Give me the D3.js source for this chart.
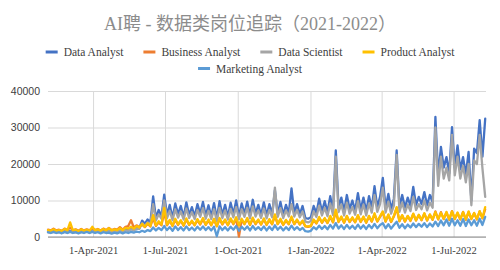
<!DOCTYPE html>
<html>
<head>
<meta charset="utf-8">
<script src="https://cdn.jsdelivr.net/npm/d3@7"></script>
<style>
  body { margin: 0; background: #fff; }
  #chart { width: 500px; height: 270px; }
</style>
</head>
<body>
<div id="chart"></div>
<script>
/* * * * * * * * * * * * * *
 *         LineVis          *
 * * * * * * * * * * * * * */

// one point every 3.5 days, starting 3-Feb-2021
const startDate = new Date(2021, 1, 3);
const stepHours = 84;
const endDate = new Date(2021, 1, 3 + 554);

const seriesNames = ["Data Analyst", "Business Analyst", "Data Scientist", "Product Analyst", "Marketing Analyst"];

const dataAnalyst = [
  1500,1300,1600,1300,1500,1200,1600,1300,1700,1300,1500,1200,1600,1400,1700,1300,1800,1400,1600,1300,1700,1400,1800,1400,1700,1500,1900,1500,2000,
  1800,2300,1900,2600,2400,4500,3600,4800,4000,
  11100,
  5200,7400,5600,
  11600,
  6000,8800,5200,9200,6200,8500,5400,9500,6000,8200,5600,9000,6400,9600,5800,8700,5600,9300,
  5000,9800,6000,8800,5500,9400,6200,10000,
  5600,9200,6300,9700,5800,10200,6400,8800,6000,9500,5900,9000,6200,
  12800,
  6300,9600,6000,8800,6400,
  13300,
  6500,9000,6200,8500,
  5200,5000,5400,
  8500,6500,10500,7000,9800,6800,11200,7200,
  23700,
  8000,10800,7000,11500,7600,10000,7200,12000,7400,10800,7000,11200,8000,
  13900,
  8200,11000,
  16200,
  8000,11800,7600,10500,
  23700,
  8200,11500,8000,10800,8500,
  13700,
  8800,11000,9000,12300,8700,11500,9500,
  32900,
  16500,24700,19000,21900,17500,30100,19000,25100,18500,21900,17000,23300,10000,24200,23000,32000,22000,32400
];

const businessAnalyst = [
  2000,1800,2300,1800,2000,1700,2300,1900,2600,1900,2100,1700,2200,1800,2100,1800,2400,1900,2200,1800,2300,1900,2500,1900,2200,2000,2700,2000,2800,
  3000,4600,2600,3200,2700,3400,2700,3600,2900,
  5200,
  3000,4000,3200,
  6800,
  3200,4400,3000,4700,3300,4400,3100,4800,3300,4300,3200,4600,3400,4900,3300,4500,3200,4700,
  2900,4900,3400,4600,3200,4800,3500,5100,
  100,4700,3500,4900,3300,5000,3500,4600,3400,4800,3300,4600,3500,
  5800,
  3500,4700,3300,4500,3500,
  5300,
  3500,4600,3400,4300,
  2900,2800,3000,
  4600,3700,5200,3900,5000,3800,5500,4000,
  7000,
  4100,5400,3900,5600,4100,5200,4000,5800,4100,5400,3900,5600,4200,
  6200,
  4200,5500,
  6800,
  4200,6000,4100,5600,
  7900,
  4300,5900,4200,5700,4400,
  6300,
  4500,6000,4600,6400,4500,6100,4700,
  7000,
  4800,6800,4900,6700,4700,7100,4900,6500,4800,6900,4700,6800,4900,6500,4800,7000,5100,7600
];

const dataScientist = [
  1300,1200,1400,1200,1300,1100,1400,1200,1500,1200,1300,1100,1400,1300,1500,1200,1600,1300,1500,1200,1500,1300,1600,1300,1600,1400,1800,1400,1800,
  1700,2100,1800,2300,2200,3800,3000,4000,3500,
  9000,
  4500,6200,5000,
  10000,
  5200,7200,4600,7600,5300,7000,4800,7800,5200,6800,4900,7400,5500,7900,5000,7200,4900,7600,
  4400,8000,5200,7300,4800,7700,5400,8200,
  4900,7600,5500,8000,5100,8400,5600,7300,5200,7800,5100,7400,5400,
  13500,
  5500,7900,5200,7300,5600,
  9000,
  5600,7400,5400,7000,
  4200,4000,4400,
  7000,5500,8600,5900,8000,5700,9200,6000,
  22000,
  6800,8900,5900,9400,6400,8200,6100,9800,6200,8900,5900,9200,6700,
  11500,
  6900,9000,
  13500,
  6700,9700,6400,8600,
  22500,
  6900,9400,6700,8900,7100,
  11000,
  7400,9000,7600,10000,7300,9400,8000,
  30000,
  14000,22000,16000,19000,15500,28000,16900,22000,16000,19500,15000,20000,8700,21000,20000,28000,18800,11000
];

const productAnalyst = [
  1900,1700,2100,1700,1900,1600,2200,1800,4000,1800,2000,1600,2100,1700,2000,1700,2800,1800,2100,1700,2200,1800,2400,1800,2100,1900,2400,1900,2500,
  2300,2800,2300,3000,2600,3600,2800,3800,3000,
  6000,
  3200,4300,3400,
  8000,
  3400,4700,3100,5000,3500,4600,3200,5100,3400,4500,3300,4900,3600,5200,3400,4800,3300,5000,
  3000,5200,3600,4800,3300,5100,3700,5400,
  3200,5000,3600,5200,3400,5300,3700,4800,3500,5100,3400,4900,3600,
  6200,
  3600,5000,3400,4700,3600,
  5600,
  3600,4800,3500,4500,
  3000,2900,3100,
  4800,3800,5500,4000,5200,3900,5800,4100,
  7500,
  4200,5600,4000,5800,4200,5400,4100,6000,4200,5600,4000,5800,4300,
  6500,
  4300,5700,
  7000,
  4300,6200,4200,5800,
  8200,
  4400,6000,4300,5800,4500,
  6400,
  4600,6100,4700,6500,4600,6200,4800,
  6800,
  4900,6600,5000,6900,4800,7000,5000,6700,4900,6800,4800,7000,5000,6600,4900,7100,5200,8200
];

const marketingAnalyst = [
  1300,1100,1400,1100,1300,1000,1400,1100,1400,1100,1300,1000,1300,1100,1400,1100,1400,1100,1300,1000,1300,1100,1200,900,1200,1000,1300,1000,1300,
  1100,1400,1200,1500,1300,1700,1400,1900,1600,
  2600,
  1800,2500,1900,
  3000,
  1900,2700,1700,2900,1900,2700,1800,2900,1900,2600,1800,2800,2000,2900,1900,2700,1800,2800,
  200,2900,1900,2700,1800,2800,2000,3000,
  1700,2800,2000,2900,1800,3000,2000,2700,1900,2900,1800,2800,1900,
  3200,
  2000,2800,1800,2700,1900,
  3100,
  2000,2700,1900,2500,
  1600,1500,1700,
  2700,2100,3100,2200,3000,2100,3300,2300,
  3800,
  2300,3200,2200,3300,2300,3100,2200,3400,2300,3200,2200,3300,2400,
  3600,
  2400,3300,
  3800,
  2400,3500,2300,3300,
  4200,
  2500,3500,2400,3400,2600,
  3700,
  2700,3600,2800,3800,2700,3700,2900,
  4200,
  3000,4500,3200,4800,3100,5000,3200,4600,3100,4900,3000,4800,3200,4600,3100,5000,3300,5500
];

const yTicks = [0, 10000, 20000, 30000, 40000];
const xTickDates = [
  new Date(2021, 3, 1), new Date(2021, 6, 1), new Date(2021, 9, 1),
  new Date(2022, 0, 1), new Date(2022, 3, 1), new Date(2022, 6, 1)
];

class LineVis {
  constructor(parentElement) {
    this.parentElement = parentElement;
    this.colors = ["#4472C4", "#ED7D31", "#A5A5A5", "#FFC000", "#5B9BD5"];
    this.initVis();
  }

  initVis() {
    let vis = this;

    vis.width = 500;
    vis.height = 270;
    vis.margin = { top: 91, right: 14, bottom: 33, left: 48 };

    vis.svg = d3
      .select("#" + vis.parentElement)
      .append("svg")
      .attr("width", vis.width)
      .attr("height", vis.height);

    // title
    vis.svg
      .append("text")
      .attr("x", 250)
      .attr("y", 30)
      .attr("text-anchor", "middle")
      .attr("font-family", "'Liberation Serif', 'Noto Sans CJK SC'")
      .attr("font-size", 18)
      .attr("fill", "#8c8c8c")
      .text("AI聘 - 数据类岗位追踪（2021-2022）");

    vis.x = d3
      .scaleTime()
      .domain([startDate, endDate])
      .range([vis.margin.left, vis.width - vis.margin.right]);

    vis.y = d3
      .scaleLinear()
      .domain([0, 40000])
      .range([vis.height - vis.margin.bottom, vis.margin.top]);

    // horizontal grid + y labels
    vis.svg
      .append("g")
      .attr("class", "y-grid")
      .attr("transform", `translate(${vis.margin.left},0)`)
      .call(
        d3.axisLeft(vis.y)
          .tickValues(yTicks)
          .tickSize(-(vis.width - vis.margin.left - vis.margin.right))
          .tickPadding(8)
          .tickFormat(d3.format("d"))
      )
      .call((g) => g.select(".domain").remove())
      .call((g) => g.selectAll(".tick line").attr("stroke", "#d9d9d9"))
      .call((g) =>
        g.selectAll(".tick text")
          .attr("font-family", "'Liberation Sans', Arial")
          .attr("font-size", 10.5)
          .attr("fill", "#404040")
      );

    // vertical grid + x labels
    vis.svg
      .append("g")
      .attr("class", "x-grid")
      .attr("transform", `translate(0,${vis.height - vis.margin.bottom})`)
      .call(
        d3.axisBottom(vis.x)
          .tickValues(xTickDates)
          .tickSize(-(vis.height - vis.margin.top - vis.margin.bottom))
          .tickPadding(10)
          .tickFormat(d3.timeFormat("%-d-%b-%Y"))
      )
      .call((g) => g.select(".domain").remove())
      .call((g) => g.selectAll(".tick line").attr("stroke", "#d9d9d9"))
      .call((g) =>
        g.selectAll(".tick text")
          .attr("font-family", "'Liberation Serif', serif")
          .attr("font-size", 10.5)
          .attr("fill", "#404040")
      );

    // baseline
    vis.svg
      .append("line")
      .attr("x1", vis.margin.left)
      .attr("x2", vis.width - vis.margin.right)
      .attr("y1", vis.y(0))
      .attr("y2", vis.y(0))
      .attr("stroke", "#8c8c8c")
      .attr("stroke-width", 1.2);

    vis.line = d3
      .line()
      .x((d) => vis.x(d.date))
      .y((d) => vis.y(d.value));

    vis.drawLegend();
    vis.wrangleData();
  }

  drawLegend() {
    let vis = this;

    let rows = [[0, 1, 2, 3], [4]];
    let rowY = [52, 68.5];

    rows.forEach((row, r) => {
      let g = vis.svg.append("g").attr("class", "legend-row");
      let items = g
        .selectAll("g")
        .data(row)
        .join("g");

      items
        .append("line")
        .attr("x1", 0)
        .attr("x2", 12)
        .attr("stroke", (d) => vis.colors[d])
        .attr("stroke-width", 3);

      items
        .append("text")
        .attr("x", 18)
        .attr("dy", "0.35em")
        .attr("font-family", "'Liberation Serif', serif")
        .attr("font-size", 11.5)
        .attr("fill", "#404040")
        .text((d) => seriesNames[d]);

      // lay items out side by side, then center the row
      let xPos = 0;
      items.each(function () {
        let w = 18 + d3.select(this).select("text").node().getComputedTextLength();
        d3.select(this).attr("transform", `translate(${xPos},0)`);
        xPos += w + 20;
      });
      let total = xPos - 20;
      g.attr("transform", `translate(${250 - total / 2},${rowY[r]})`);
    });
  }

  wrangleData() {
    let vis = this;
    let dates = d3.range(dataAnalyst.length).map((i) => d3.timeHour.offset(startDate, stepHours * i));
    let all = [dataAnalyst, businessAnalyst, dataScientist, productAnalyst, marketingAnalyst];

    vis.displayData = all.map((vals, k) => ({
      name: seriesNames[k],
      values: vals.map((v, i) => ({ date: dates[i], value: v })),
    }));

    vis.updateVis();
  }

  updateVis() {
    let vis = this;

    vis.svg
      .append("g")
      .attr("class", "series")
      .selectAll("path")
      .data(vis.displayData)
      .join("path")
      .attr("fill", "none")
      .attr("stroke", (d, i) => vis.colors[i])
      .attr("stroke-width", 2.3)
      .attr("stroke-linejoin", "round")
      .attr("stroke-linecap", "round")
      .attr("d", (d) => vis.line(d.values));
  }
}

new LineVis("chart");
</script>
</body>
</html>
